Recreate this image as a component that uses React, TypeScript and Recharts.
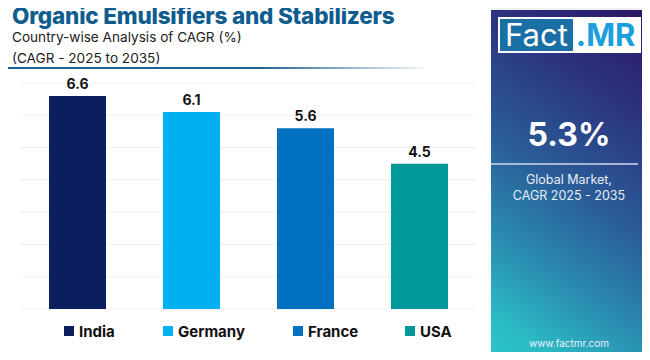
import { BarChart, Bar, XAxis, YAxis, CartesianGrid, Cell, LabelList } from 'recharts';

const countries = ['India', 'Germany', 'France', 'USA'];
const cagr = [6.6, 6.1, 5.6, 4.5];
const barColors = ['#0b1f5f', '#00b0f0', '#0070c0', '#00999a'];
const yTicks = [0, 1, 2, 3, 4, 5, 6, 7];
const legendLeft = [64, 163, 293, 405];

const data = countries.map((name, i) => ({ name, value: cagr[i] }));

const FONT = 'Inter, "Noto Sans", sans-serif';

export default function App() {
  return (
    <div style={{ margin: -8, width: 650, height: 360, position: 'relative', background: '#f1f1f1', overflow: 'hidden', fontFamily: FONT }}>
      <div style={{ position: 'absolute', left: 2, top: 2, width: 489, height: 358, background: '#fff' }} />
      <div style={{ position: 'absolute', left: 12, top: 2, fontSize: 22.5, fontWeight: 800, color: '#0f5c8e', letterSpacing: -0.2 }}>
        Organic Emulsifiers and Stabilizers
      </div>
      <div style={{ position: 'absolute', left: 12, top: 27, fontSize: 13.6, color: '#222', lineHeight: '21px' }}>
        Country-wise Analysis of CAGR (%)
        <br />
        (CAGR - 2025 to 2035)
      </div>
      <div style={{ position: 'absolute', left: 4, top: 67, width: 420, height: 2, background: 'linear-gradient(to right, #1d5f8f, #1d5f8f 60%, rgba(29,95,143,0.05))' }} />
      <div style={{ position: 'absolute', left: 6, top: 356, width: 485, height: 3, background: '#3a77a6' }} />

      <div style={{ position: 'absolute', left: 0, top: 0 }}>
        <BarChart width={491} height={360} data={data} margin={{ top: 83, right: 15, left: 20, bottom: 51 }}>
          <CartesianGrid vertical={false} stroke="#efefef" />
          <XAxis dataKey="name" hide />
          <YAxis hide domain={[0, 7]} ticks={yTicks} />
          <Bar dataKey="value" barSize={57} isAnimationActive={false}>
            {data.map((d, i) => (
              <Cell key={d.name} fill={barColors[i]} />
            ))}
            <LabelList dataKey="value" position="top" offset={7} fill="#111" fontSize={14} fontWeight={700} fontFamily={FONT} />
          </Bar>
        </BarChart>
      </div>

      {countries.map((c, i) => (
        <div key={c} style={{ position: 'absolute', left: legendLeft[i], top: 321, height: 20, display: 'flex', alignItems: 'center', gap: 5 }}>
          <span style={{ width: 10, height: 10, background: barColors[i], display: 'inline-block' }} />
          <span style={{ fontSize: 15, fontWeight: 700, color: '#111' }}>{c}</span>
        </div>
      ))}

      <div
        style={{
          position: 'absolute',
          left: 491,
          top: 10,
          width: 156,
          height: 350,
          background: 'linear-gradient(215deg, #2b1765 0%, #2c3480 25%, #2a5c98 50%, #2a8bb0 72%, #2bbac4 90%, #2cc6ca 100%)',
          color: '#fff',
          textAlign: 'center',
        }}
      >
        <div style={{ position: 'absolute', left: 7, top: 7, width: 143, height: 36, background: '#fff', display: 'flex', alignItems: 'stretch', padding: 2, boxSizing: 'border-box' }}>
          <div style={{ background: '#1a6fa5', color: '#fff', fontSize: 31, lineHeight: '32px', padding: '0 5px', fontWeight: 400 }}>Fact</div>
          <div style={{ color: '#1aa0dc', fontSize: 31, lineHeight: '32px', fontWeight: 700, paddingLeft: 3 }}>.MR</div>
        </div>
        <div style={{ position: 'absolute', left: 0, width: 156, top: 105, fontSize: 32, fontWeight: 700 }}>5.3%</div>
        <div style={{ position: 'absolute', left: 0, width: 147, top: 153, height: 2, background: 'rgba(210,215,235,0.75)' }} />
        <div style={{ position: 'absolute', left: 0, width: 156, top: 162, fontSize: 12.5, lineHeight: '16px', color: '#e8eef6' }}>
          Global Market,
          <br />
          CAGR 2025 - 2035
        </div>
        <div style={{ position: 'absolute', left: 0, width: 156, top: 327, fontSize: 10, color: '#eef' }}>www.factmr.com</div>
      </div>
    </div>
  );
}
